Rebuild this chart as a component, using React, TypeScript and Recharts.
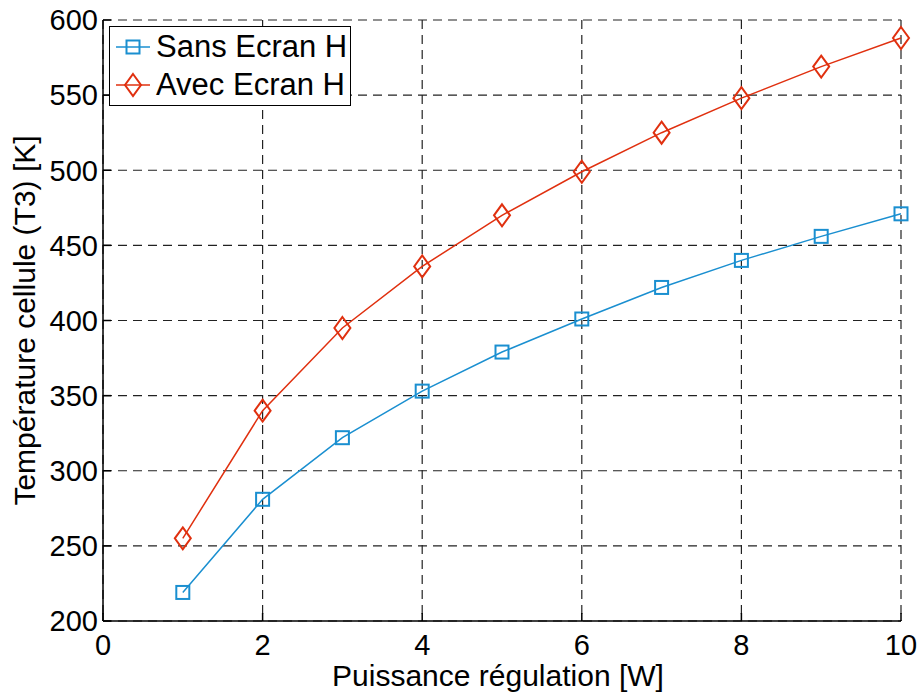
import React from "react";
import { LineChart, Line, XAxis, YAxis, CartesianGrid, Legend } from "recharts";

const power = [1, 2, 3, 4, 5, 6, 7, 8, 9, 10];
const sansEcran = [219, 281, 322, 353, 379, 401, 422, 440, 456, 471];
const avecEcran = [255, 340, 395, 436, 470, 499, 525, 548, 569, 588];
const xTicks = [0, 2, 4, 6, 8, 10];
const yTicks = [200, 250, 300, 350, 400, 450, 500, 550, 600];

const BLUE = "#1a8fd0";
const RED = "#e0300f";
const FONT = "'Liberation Sans', Arial, sans-serif";

const data = power.map((p, i) => ({ p, sans: sansEcran[i], avec: avecEcran[i] }));

function SquareDot(props: any) {
  const { cx, cy } = props;
  if (cx == null || cy == null) return null;
  return <rect x={cx - 6.5} y={cy - 6.5} width={13} height={13} fill="none" stroke={BLUE} strokeWidth={2} />;
}

function DiamondDot(props: any) {
  const { cx, cy } = props;
  if (cx == null || cy == null) return null;
  return (
    <path
      d={`M${cx},${cy - 11} L${cx + 8},${cy} L${cx},${cy + 11} L${cx - 8},${cy} Z`}
      fill="none"
      stroke={RED}
      strokeWidth={2}
    />
  );
}

function LegendBox() {
  const rows = [
    { label: "Sans Ecran H", color: BLUE, shape: "square" },
    { label: "Avec Ecran H", color: RED, shape: "diamond" },
  ];
  return (
    <div
      style={{
        width: 242,
        height: 80,
        border: "1.5px solid #000",
        background: "#fff",
        fontFamily: FONT,
        fontSize: 31,
        lineHeight: "38px",
        paddingTop: 1,
        boxSizing: "border-box",
        textAlign: "left",
      }}
    >
      {rows.map((r) => (
        <div key={r.label} style={{ display: "flex", alignItems: "center", height: 38 }}>
          <svg width={42} height={38} style={{ marginLeft: 4 }}>
            <line x1={2} y1={19} x2={36} y2={19} stroke={r.color} strokeWidth={1.5} />
            {r.shape === "square" ? (
              <rect x={12.5} y={12.5} width={13} height={13} fill="none" stroke={r.color} strokeWidth={2} />
            ) : (
              <path d="M19,8 L27,19 L19,30 L11,19 Z" fill="none" stroke={r.color} strokeWidth={2} />
            )}
          </svg>
          <span style={{ color: "#000" }}>{r.label}</span>
        </div>
      ))}
    </div>
  );
}

export default function App() {
  return (
    <div style={{ position: "absolute", left: 0, top: 0, background: "#fff" }}>
      <LineChart width={921} height={692} data={data} margin={{ top: 20, right: 20, left: 0, bottom: 0 }}>
        <CartesianGrid stroke="#222" strokeDasharray="9 6" strokeWidth={1.2} horizontalValues={yTicks} verticalValues={xTicks} />
        <XAxis
          dataKey="p"
          type="number"
          domain={[0, 10]}
          ticks={xTicks}
          height={71}
          stroke="#000"
          strokeWidth={1.5}
          tickSize={-8}
          tickMargin={21}
          tick={{ fill: "#000", fontSize: 29, fontFamily: FONT }}
          label={{ value: "Puissance régulation [W]", position: "insideBottom", offset: 6, fill: "#000", fontSize: 30, fontFamily: FONT, dx: -4 }}
        />
        <XAxis
          xAxisId="top"
          orientation="top"
          dataKey="p"
          type="number"
          domain={[0, 10]}
          ticks={xTicks}
          height={0}
          tick={false}
          tickSize={-8}
          stroke="#000"
          strokeWidth={1.5}
        />
        <YAxis
          type="number"
          domain={[200, 600]}
          ticks={yTicks}
          width={103}
          stroke="#000"
          strokeWidth={1.5}
          tickSize={-8}
          tickMargin={13}
          tick={{ fill: "#000", fontSize: 29, fontFamily: FONT }}
          label={{ value: "Température cellule (T3) [K]", angle: -90, position: "insideLeft", offset: 24, fill: "#000", fontSize: 30, fontFamily: FONT, style: { textAnchor: "middle" } }}
        />
        <YAxis
          yAxisId="right"
          orientation="right"
          type="number"
          domain={[200, 600]}
          ticks={yTicks}
          width={0}
          tick={false}
          tickSize={-8}
          stroke="#000"
          strokeWidth={1.5}
        />
        <Legend
          layout="horizontal"
          verticalAlign="middle"
          align="center"
          content={() => <LegendBox />}
          wrapperStyle={{ position: "absolute", left: 109, top: 26, width: "auto" }}
        />
        <Line dataKey="sans" name="Sans Ecran H" stroke={BLUE} strokeWidth={1.5} dot={<SquareDot />} isAnimationActive={false} />
        <Line dataKey="avec" name="Avec Ecran H" stroke={RED} strokeWidth={1.5} dot={<DiamondDot />} isAnimationActive={false} />
      </LineChart>
    </div>
  );
}
